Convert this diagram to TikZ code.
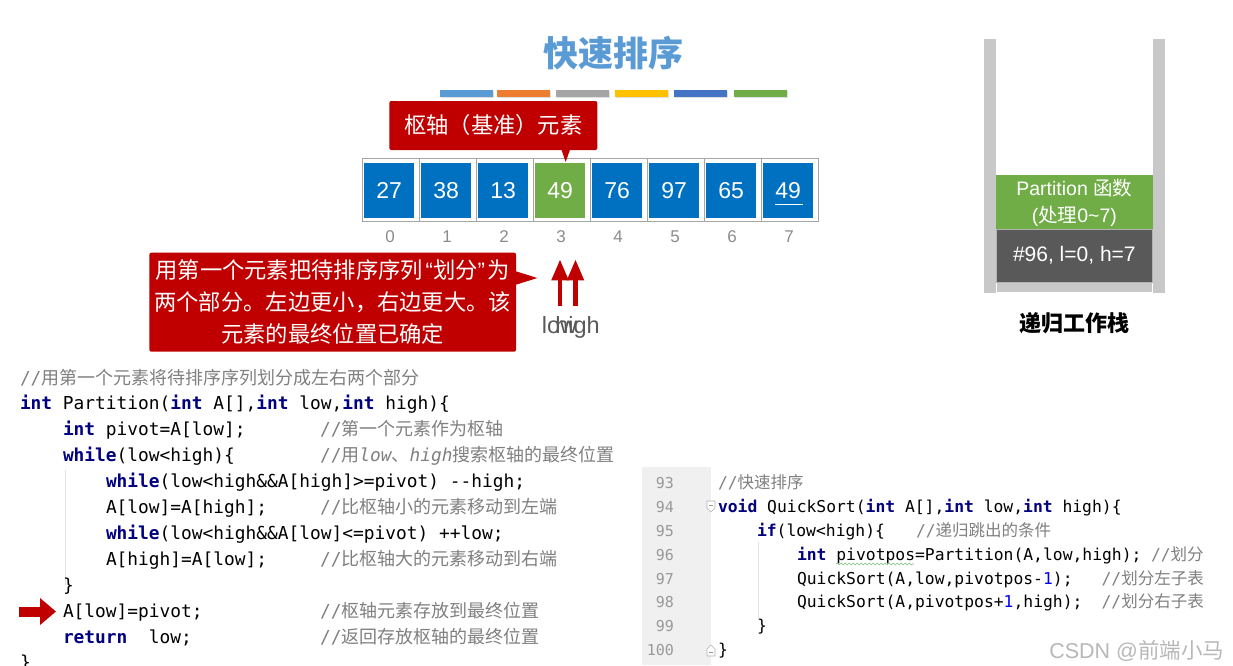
\documentclass[tikz,border=0pt]{standalone}
\usepackage{fontspec}
\setmainfont{Liberation Sans}
\newfontfamily\cjk{Noto Sans CJK SC}
\newfontfamily\codefont{DejaVu Sans Mono}
\usetikzlibrary{arrows.meta,decorations.pathmorphing}
\definecolor{titleblue}{HTML}{5B9BD5}
\definecolor{barA}{HTML}{5B9BD5}
\definecolor{barB}{HTML}{ED7D31}
\definecolor{barC}{HTML}{A5A5A5}
\definecolor{barD}{HTML}{FFC000}
\definecolor{barE}{HTML}{4472C4}
\definecolor{barF}{HTML}{70AD47}
\definecolor{cellblue}{HTML}{0070C0}
\definecolor{pivgreen}{HTML}{70AD47}
\definecolor{callred}{HTML}{C00000}
\definecolor{kwblue}{HTML}{000080}
\definecolor{cmtgray}{HTML}{808080}
\definecolor{stackgray}{HTML}{C8C8C8}
\definecolor{darkblk}{HTML}{595959}
\definecolor{gutterc}{HTML}{F0F0F0}
\definecolor{lnumc}{HTML}{999999}
\definecolor{numblue}{HTML}{0000FF}
\definecolor{idxgray}{HTML}{8C8C8C}
\definecolor{guidec}{HTML}{E2E2E2}
\newcommand\kwd[1]{{\color{kwblue}\bfseries #1}}
\newcommand\lzh[1]{{\cjk\fontsize{18}{20}\selectfont #1}}
\newcommand\rzh[1]{{\cjk\fontsize{16.5}{18}\selectfont #1}}
\newcommand\oqt{\makebox[10pt][r]{\normalfont “}}
\newcommand\cqt{\makebox[10pt][l]{\normalfont ”}}
\begin{document}
\begin{tikzpicture}[x=1pt,y=-1pt,
  every node/.style={inner sep=0pt,outer sep=0pt},
  codeL/.style={anchor=base west,font=\codefont\fontsize{17.85}{20}\selectfont},
  cmtL/.style={codeL,text=cmtgray},
  codeR/.style={anchor=base west,font=\codefont\fontsize{16.35}{18}\selectfont},
  cmtR/.style={codeR,text=cmtgray},
  lnum/.style={anchor=base east,font=\codefont\fontsize{15}{18}\selectfont,text=lnumc},
  callbox/.style={fill=callred,rounded corners=2pt,text=white,font=\cjk\fontsize{22.3}{22.3}\selectfont},
  cellframe/.style={draw=black!35,line width=0.8pt,minimum width=57pt,minimum height=63.4pt},
  cellbox/.style={minimum width=49.6pt,minimum height=54.4pt,text=white,font=\fontsize{23}{23}\selectfont},
  idx/.style={text=idxgray,font=\fontsize{17}{17}\selectfont},
  uparrow/.style={callred,line width=4.7pt,-{Triangle[width=16pt,length=21pt]}},
  lhlabel/.style={anchor=base,text=darkblk,font=\fontsize{23.5}{23.5}\selectfont},
  stackgreen/.style={fill=pivgreen,minimum width=156.7pt,minimum height=55pt,text=white,align=center,font=\fontsize{19.5}{27}\selectfont},
  stackdark/.style={fill=darkblk,draw=black!30,line width=0.6pt,minimum width=156.7pt,minimum height=53.3pt,text=white,font=\fontsize{21}{21}\selectfont}
]
\useasboundingbox (0,0) rectangle (1233,665);
\fill[white] (0,0) rectangle (1233,665);

% title and colour bars
\node[font=\cjk\bfseries\fontsize{35}{35}\selectfont,text=titleblue] (title) at (613.2,53.3) {快速排序};
\foreach \xa/\col in {440/barA,497.3/barB,556/barC,615/barD,674/barE,734/barF}{
  \fill[black!12] ({\xa+1},91) rectangle ({\xa+53.7},97.7);
  \fill[\col] (\xa,90) rectangle ({\xa+52.7},96.7);
}

% array
\foreach \v/\c [count=\i from 0] in {27/cellblue,38/cellblue,13/cellblue,49/pivgreen,76/cellblue,97/cellblue,65/cellblue,49/cellblue}{
  \node[cellframe] (f\i) at ({391.2+57*\i},190) {};
  \node[cellbox,fill=\c] (c\i) at ({389.2+57*\i},190.5) {\v};
  \node[idx] (n\i) at ({390+57*\i},237) {\i};
}
\coordinate (u1) at (775,204.5);
\coordinate (u2) at (803,204.5);
\draw[white,line width=1.3pt] (u1) -- (u2);

% callout 1
\node[callbox,minimum width=208pt,minimum height=49pt] (cb1) at (493.3,125.5) {枢轴（基准）元素};
\coordinate (p1) at (565.7,162);
\fill[callred] (561.2,149) -- (p1) -- (570.2,149) -- cycle;

% callout 2
\node[callbox,minimum width=366.7pt,minimum height=99pt,align=center,font=\cjk\fontsize{22.3}{32}\selectfont] (cb2) at (332.7,302.2) {用第一个元素把待排序序列\oqt 划分\cqt 为\\两个部分。左边更小，右边更大。该\\元素的最终位置已确定};
\coordinate (p2) at (537.3,278);
\fill[callred] (515,271) -- (p2) -- (515,285) -- cycle;

% low / high arrows
\coordinate (lowB) at (560,306);
\coordinate (lowT) at (560,259.3);
\coordinate (highB) at (575.5,306);
\coordinate (highT) at (575.5,259.3);
\draw[uparrow] (lowB) -- (lowT);
\draw[uparrow] (highB) -- (highT);
\node[lhlabel] (lowlab) at (559.5,333.3) {low};
\node[lhlabel] (highlab) at (577.5,333.3) {high};

% stack
\fill[stackgray] (984,39.3) rectangle (996,293.3);
\fill[stackgray] (1152.7,39.3) rectangle (1165,293.3);
\node[fill=stackgray,draw=white,line width=0.6pt,minimum width=156.7pt,minimum height=10pt] (sbot) at (1074.35,287.3) {};
\node[stackgreen] (sg) at (1074.35,202.5) {Partition {\cjk 函数}\\({\cjk 处理}0\textasciitilde7)};
\node[stackdark] (sd) at (1074.35,255.65) {\#96, l=0, h=7};
\node[font=\cjk\bfseries\fontsize{22}{22}\selectfont] (stlab) at (1074.7,323.3) {递归工作栈};

% left code
\draw[guidec,line width=0.8pt] (65,470) -- (65,585);
\node[cmtL] (l0) at (20,384) {//\lzh{用第一个元素将待排序序列划分成左右两个部分}};
\node[codeL] (l1) at (20,409) {\kwd{int} Partition(\kwd{int} A[],\kwd{int} low,\kwd{int} high)\{};
\node[codeL] (l2) at (63,435) {\kwd{int} pivot=A[low];};
\node[cmtL] (l2c) at (320,435) {//\lzh{第一个元素作为枢轴}};
\node[codeL] (l3) at (63,461) {\kwd{while}(low<high)\{};
\node[cmtL] (l3c) at (320,461) {//\lzh{用}{\itshape low}\lzh{、}{\itshape high}\lzh{搜索枢轴的最终位置}};
\node[codeL] (l4) at (106,487) {\kwd{while}(low<high\&\&A[high]>=pivot) -{}-high;};
\node[codeL] (l5) at (106,513) {A[low]=A[high];};
\node[cmtL] (l5c) at (320,513) {//\lzh{比枢轴小的元素移动到左端}};
\node[codeL] (l6) at (106,539) {\kwd{while}(low<high\&\&A[low]<=pivot) ++low;};
\node[codeL] (l7) at (106,565) {A[high]=A[low];};
\node[cmtL] (l7c) at (320,565) {//\lzh{比枢轴大的元素移动到右端}};
\node[codeL] (l8) at (63,591) {\}};
\node[codeL] (l9) at (63,617) {A[low]=pivot;};
\node[cmtL] (l9c) at (320,617) {//\lzh{枢轴元素存放到最终位置}};
\node[codeL] (l10) at (63,643) {\kwd{return}\ \ low;};
\node[cmtL] (l10c) at (320,643) {//\lzh{返回存放枢轴的最终位置}};
\node[codeL] (l11) at (20,668) {\}};
\coordinate (ra1) at (19,611.5);
\coordinate (ra2) at (56,611.5);
\draw[callred,line width=10pt,-{Triangle[width=26pt,length=16pt]}] (ra1) -- (ra2);

% right code
\fill[gutterc] (642,467) rectangle (711,665);
\foreach \n [count=\k from 0] in {93,94,95,96,97,98,99,100}{
  \node[lnum] (ln\n) at (674,{488.8+23.8*\k}) {\n};
}
\filldraw[fill=white,draw=black!30,line width=0.6pt] (707,501) -- (715,501) -- (715,508) -- (711,512) -- (707,508) -- cycle;
\draw[black!40,line width=0.6pt] (709,505) -- (713,505);
\filldraw[fill=white,draw=black!30,line width=0.6pt] (707,656) -- (715,656) -- (715,649) -- (711,645) -- (707,649) -- cycle;
\draw[black!40,line width=0.6pt] (709,652) -- (713,652);
\draw[guidec,line width=0.8pt] (758,542) -- (758,618);
\node[cmtR] (r93) at (718,488.8) {//\rzh{快速排序}};
\node[codeR] (r94) at (718,512.6) {\kwd{void} QuickSort(\kwd{int} A[],\kwd{int} low,\kwd{int} high)\{};
\node[codeR] (r95) at (757,536.4) {\kwd{if}(low<high)\{};
\node[cmtR] (r95c) at (916,536.4) {//\rzh{递归跳出的条件}};
\node[codeR] (r96) at (797,560.2) {\kwd{int} pivotpos=Partition(A,low,high);};
\node[cmtR] (r96c) at (1151,560.2) {//\rzh{划分}};
\node[codeR] (r97) at (797,584) {QuickSort(A,low,pivotpos-\textcolor{numblue}{1});};
\node[cmtR] (r97c) at (1101.6,584) {//\rzh{划分左子表}};
\node[codeR] (r98) at (797,607.8) {QuickSort(A,pivotpos+\textcolor{numblue}{1},high);};
\node[cmtR] (r98c) at (1101.6,607.8) {//\rzh{划分右子表}};
\node[codeR] (r99) at (757,631.6) {\}};
\node[codeR] (r100) at (718,655.4) {\}};
\coordinate (w1) at (836,564);
\coordinate (w2) at (914,564);
\draw[green!50!black!50,line width=0.6pt,decorate,decoration={snake,amplitude=0.9pt,segment length=4pt}] (w1) -- (w2);

% watermark
\node[text=black!28,font=\fontsize{21.5}{21.5}\selectfont] (wm) at (1136.7,651) {CSDN @{\cjk 前端小马}};
\end{tikzpicture}
\end{document}
